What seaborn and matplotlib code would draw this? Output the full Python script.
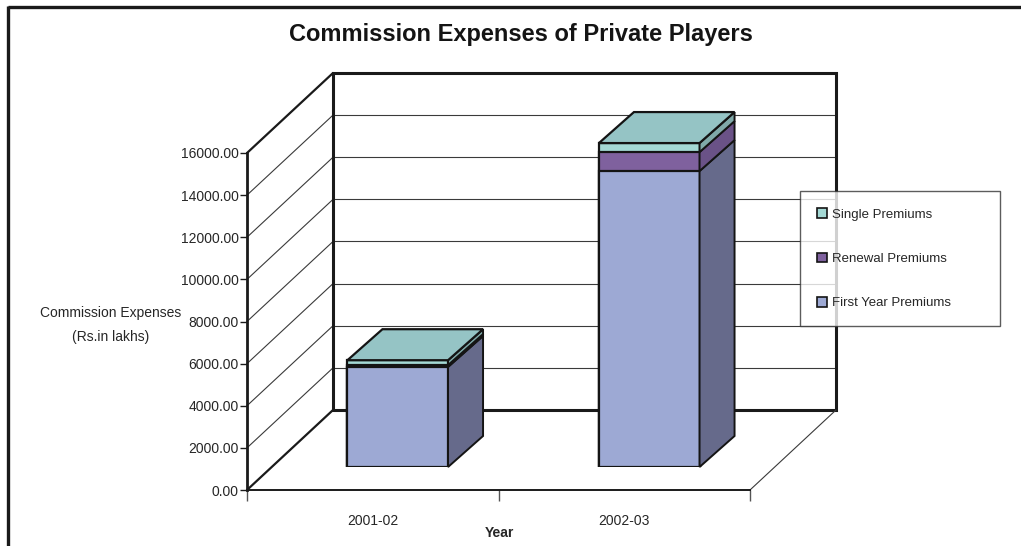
import matplotlib
matplotlib.use("Agg")
import matplotlib.pyplot as plt
from matplotlib.patches import Polygon, Patch
from matplotlib.lines import Line2D
import seaborn as sns
import pandas as pd
import numpy as np

# ---- data ----
years = ["2001-02", "2002-03"]
first_year = [4750, 14050]
renewal = [90, 900]
single = [230, 430]
series_names = ["First Year Premiums", "Renewal Premiums", "Single Premiums"]
yticks = [0, 2000, 4000, 6000, 8000, 10000, 12000, 14000, 16000]

front_cols = ["#9DA9D4", "#7F619E", "#A4D9D5"]
side_cols = ["#666A8B", "#6A5287", "#80A9A9"]
top_col = "#95C4C5"

sns.set_theme(style="white")
plt.rcParams["font.family"] = ["Liberation Sans", "DejaVu Sans"]

W, H = 1021, 546
fig = plt.figure(figsize=(W / 100, H / 100), dpi=100)

# main (front) axes: left axis at x=247px, 0 at y=490px, 16000 at y=153px
L, B, AW, AH = 247, 490, 503, 337
ax = fig.add_axes([L / W, (H - B) / H, AW / W, AH / H])
ax.set_xlim(-0.5, 1.5)
ax.set_ylim(0, 16000)
ax.patch.set_alpha(0)
for s in ["top", "right"]:
    ax.spines[s].set_visible(False)
ax.spines["left"].set_linewidth(2.0)
ax.spines["left"].set_color("#1a1a1a")
ax.spines["bottom"].set_linewidth(1.4)
ax.spines["bottom"].set_color("#1a1a1a")

DX = 86 / (AW / 2)          # depth offset in category units
DY = 80 / (AH / 16000)      # depth offset in value units

# back wall
xb0, xb1 = -0.5 + DX, 1.5 + DX
for v in yticks[1:-1]:
    ax.plot([xb0, xb1], [v + DY, v + DY], color="#3a3a3a", lw=0.8, clip_on=False, zorder=1)
    ax.plot([-0.5, xb0], [v, v + DY], color="#3a3a3a", lw=0.8, clip_on=False, zorder=1)
ax.plot([xb0, xb1, xb1, xb0, xb0], [DY, DY, 16000 + DY, 16000 + DY, DY],
        color="#1a1a1a", lw=2.2, clip_on=False, zorder=1, solid_joinstyle="miter")
# left wall edges
ax.plot([-0.5, xb0], [16000, 16000 + DY], color="#1a1a1a", lw=1.6, clip_on=False, zorder=1)
ax.plot([-0.5, xb0], [0, DY], color="#1a1a1a", lw=1.6, clip_on=False, zorder=1)
# floor right edge
ax.plot([1.5, xb1], [0, DY], color="#3a3a3a", lw=0.8, clip_on=False, zorder=1)

ax.set_yticks(yticks)
ax.set_yticklabels([f"{v:.2f}" for v in yticks], fontsize=10)
ax.tick_params(axis="y", length=5, width=1, color="#1a1a1a", pad=1, left=True)
ax.set_xticks([0, 1])
ax.set_xticklabels(years, fontsize=10)
ax.tick_params(axis="x", which="major", length=0, pad=17)
ax.set_xticks([-0.5, 0.5, 1.5], minor=True)
ax.tick_params(axis="x", which="minor", length=8, width=1, color="#555555", bottom=True)
ax.set_ylabel("Commission Expenses\n(Rs.in lakhs)", rotation=0, fontsize=10,
              ha="center", va="center", linespacing=1.85)
ax.yaxis.set_label_coords((111 - L) / AW, (B - 325) / AH)
ax.set_xlabel("Year", fontsize=10, fontweight="bold")
ax.xaxis.set_label_coords((499 - L) / AW, (B - 526) / AH)

# bar axes: shifted into depth
SX, SY = 25, 23
axb = fig.add_axes([(L + SX) / W, (H - B + SY) / H, AW / W, AH / H])
axb.patch.set_alpha(0)

fy = np.array(first_year, float)
rn = np.array(renewal, float)
sg = np.array(single, float)
layers = [fy + rn + sg, fy + rn, fy]
layer_cols = [front_cols[2], front_cols[1], front_cols[0]]
for vals, c in zip(layers, layer_cols):
    df = pd.DataFrame({"Year": years, "Value": vals})
    sns.barplot(data=df, x="Year", y="Value", color=c, saturation=1, width=0.4,
                edgecolor="#141414", linewidth=1.6, ax=axb, zorder=3)
axb.set_xlim(-0.5, 1.5)
axb.set_ylim(0, 16000)
axb.axis("off")

ddx = 35 / (AW / 2)
ddy = 31 / (AH / 16000)
bars = axb.patches[:len(years)]
for i, p in enumerate(bars):
    xr = p.get_x() + p.get_width()
    xl = p.get_x()
    bounds = [0, fy[i], fy[i] + rn[i], fy[i] + rn[i] + sg[i]]
    for k in range(3):
        y0, y1 = bounds[k], bounds[k + 1]
        poly = Polygon([(xr, y0), (xr + ddx, y0 + ddy), (xr + ddx, y1 + ddy), (xr, y1)],
                       closed=True, facecolor=side_cols[k], edgecolor="#141414",
                       lw=1.4, clip_on=False, zorder=3, joinstyle="miter")
        axb.add_patch(poly)
    T = bounds[-1]
    top = Polygon([(xl, T), (xl + ddx, T + ddy), (xr + ddx, T + ddy), (xr, T)],
                  closed=True, facecolor=top_col, edgecolor="#141414", lw=1.6,
                  clip_on=False, zorder=4, joinstyle="miter")
    axb.add_patch(top)

# legend
handles = [Patch(facecolor=front_cols[k], edgecolor="#141414", lw=1.2) for k in [2, 1, 0]]
labels = [series_names[k] for k in [2, 1, 0]]
leg = fig.legend(handles, labels, loc="upper left",
                 bbox_to_anchor=(800 / W, (H - 325) / H, 200 / W, 134 / H),
                 mode="expand", fontsize=9.5, frameon=True, fancybox=False,
                 borderpad=1.3, labelspacing=2.42, handlelength=0.75,
                 handleheight=0.75, handletextpad=0.35, borderaxespad=0)
leg.get_frame().set_edgecolor("#333333")
leg.get_frame().set_linewidth(1.0)

# title
fig.text(521 / W, 1 - 35 / H, "Commission Expenses of Private Players",
         ha="center", va="center", fontsize=17, fontweight="bold", color="#141414")

# outer frame (top and left)
fig.add_artist(Line2D([8 / W, 1.0], [1 - 7 / H, 1 - 7 / H], transform=fig.transFigure,
                      color="#1a1a1a", lw=2.4, solid_capstyle="butt"))
fig.add_artist(Line2D([8 / W, 8 / W], [1 - 6 / H, 0], transform=fig.transFigure,
                      color="#1a1a1a", lw=2.4, solid_capstyle="butt"))

fig.savefig("out.png", dpi=100, facecolor="white")
